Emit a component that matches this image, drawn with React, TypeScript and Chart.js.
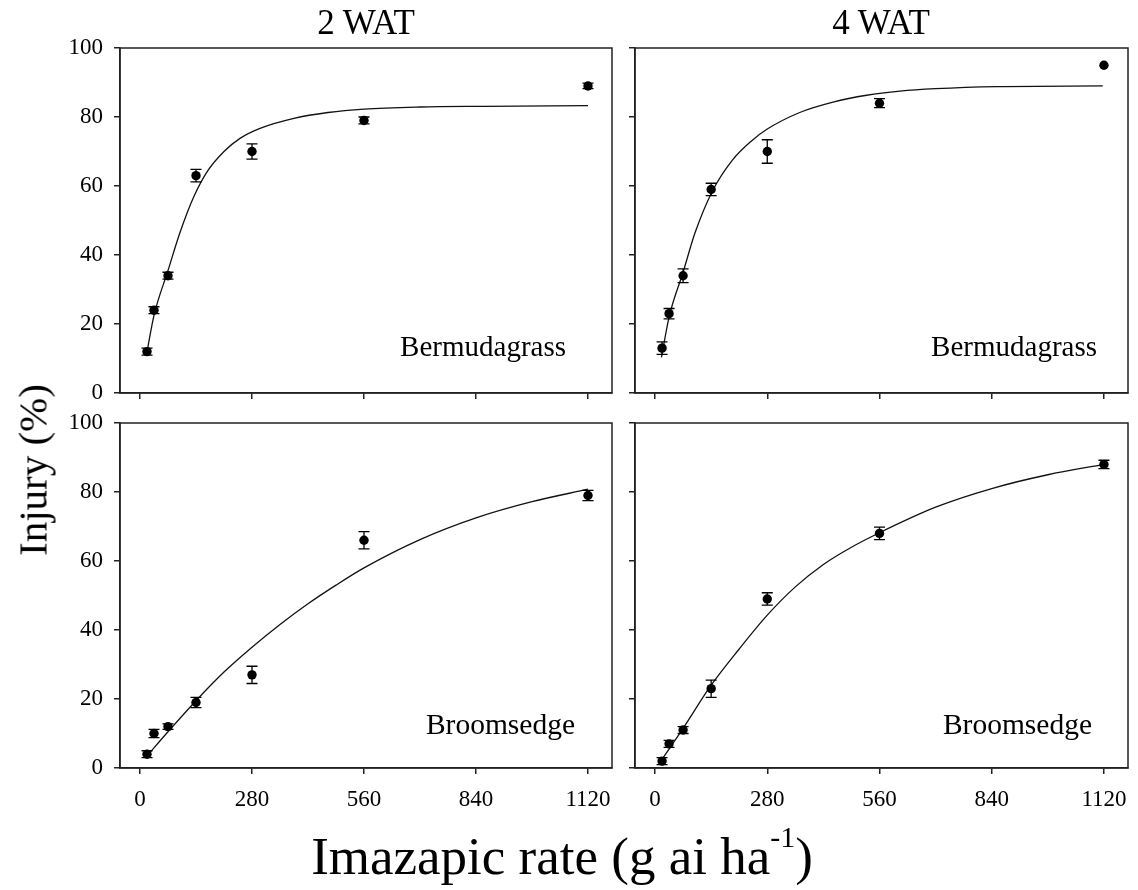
import React, { useEffect, useRef } from "react";
import { Chart, registerables } from "chart.js";
Chart.register(...registerables);

// ---------- data ----------
const RATES = [17.5, 35, 70, 140, 280, 560, 1120];
const X_TICKS = [0, 280, 560, 840, 1120];
const Y_TICKS = [0, 20, 40, 60, 80, 100];

const BERM_2WAT = [12, 24, 34, 63, 70, 79, 89];
const BERM_2WAT_SE = [1, 1, 1, 1.8, 2.2, 1, 0.8];
const BERM_4WAT = [13, 23, 34, 59, 70, 84, 95];
const BERM_4WAT_SE = [1.8, 1.5, 2, 1.8, 3.4, 1.3, 0];
const BROOM_2WAT = [4, 10, 12, 19, 27, 66, 79];
const BROOM_2WAT_SE = [1, 1.2, 0.8, 1.5, 2.5, 2.5, 1.5];
const BROOM_4WAT = [2, 7, 11, 23, 49, 68, 88];
const BROOM_4WAT_SE = [1, 1, 1, 2.5, 1.8, 1.8, 1.2];

// fitted curves
const BERM_2WAT_FIT_X = [17.5, 35, 70, 100, 135, 170, 210, 250, 300, 385, 470, 560, 700, 860, 1120];
const BERM_2WAT_FIT_Y = [12, 22.5, 35.5, 46.5, 57, 64.5, 70, 73.8, 76.7, 79.6, 81.3, 82.3, 82.9, 83.1, 83.3];
const BERM_4WAT_FIT_X = [16, 35, 70, 100, 143, 193, 240, 280, 361, 444, 528, 611, 700, 853, 1117];
const BERM_4WAT_FIT_Y = [10.3, 22, 35, 46.5, 58.5, 67.5, 73, 76.5, 81.3, 84.3, 86.3, 87.5, 88.2, 88.8, 89];
const BROOM_2WAT_FIT_X = [17.5, 70, 140, 210, 280, 350, 420, 490, 560, 700, 840, 980, 1120];
const BROOM_2WAT_FIT_Y = [3.5, 10.5, 19.5, 27.8, 35, 41.6, 47.6, 53, 58, 66.2, 72.5, 77.2, 80.8];
const BROOM_4WAT_FIT_X = [17.5, 35, 70, 140, 210, 280, 350, 420, 490, 560, 700, 840, 980, 1120];
const BROOM_4WAT_FIT_Y = [2.5, 5.5, 11.5, 24, 34.5, 44.3, 52.5, 59, 64, 68.2, 75.6, 81, 85, 88];

const FONT = "'Liberation Serif', 'Times New Roman', serif";
const INK = "#222";

type Panel = {
  key: string;
  left: number; top: number; w: number; h: number;
  pad: { left: number; top: number; right: number; bottom: number };
  yW: number; xH: number;
  showX: boolean; showY: boolean;
  vals: number[]; se: number[]; fx: number[]; fy: number[];
};

const PANELS: Panel[] = [
  { key: "tl", left: 0, top: 0, w: 620, h: 420, pad: { left: 0, top: 48, right: 8, bottom: 0 }, yW: 120, xH: 27, showX: false, showY: true, vals: BERM_2WAT, se: BERM_2WAT_SE, fx: BERM_2WAT_FIT_X, fy: BERM_2WAT_FIT_Y },
  { key: "tr", left: 615, top: 0, w: 523, h: 420, pad: { left: 0, top: 48, right: 10, bottom: 0 }, yW: 20, xH: 27, showX: false, showY: false, vals: BERM_4WAT, se: BERM_4WAT_SE, fx: BERM_4WAT_FIT_X, fy: BERM_4WAT_FIT_Y },
  { key: "bl", left: 0, top: 393, w: 632, h: 437, pad: { left: 0, top: 30, right: 20, bottom: 0 }, yW: 120, xH: 62, showX: true, showY: true, vals: BROOM_2WAT, se: BROOM_2WAT_SE, fx: BROOM_2WAT_FIT_X, fy: BROOM_2WAT_FIT_Y },
  { key: "br", left: 615, top: 393, w: 540, h: 437, pad: { left: 0, top: 30, right: 27, bottom: 0 }, yW: 20, xH: 62, showX: true, showY: false, vals: BROOM_4WAT, se: BROOM_4WAT_SE, fx: BROOM_4WAT_FIT_X, fy: BROOM_4WAT_FIT_Y },
];

function makeConfig(p: Panel): any {
  const framePlugin = {
    id: "frame" + p.key,
    afterDraw(chart: any) {
      const { ctx, chartArea: a } = chart;
      ctx.save();
      ctx.strokeStyle = INK;
      ctx.lineWidth = 1.5;
      ctx.strokeRect(a.left, a.top, a.right - a.left, a.bottom - a.top);
      ctx.restore();
    },
  };
  const errPlugin = {
    id: "err" + p.key,
    afterDatasetsDraw(chart: any) {
      const { ctx } = chart;
      const xs = chart.scales.x, ys = chart.scales.y;
      ctx.save();
      ctx.strokeStyle = "#000";
      ctx.lineWidth = 1.3;
      RATES.forEach((r, i) => {
        const e = p.se[i];
        if (!e) return;
        const px = xs.getPixelForValue(r);
        const y1 = ys.getPixelForValue(p.vals[i] - e);
        const y2 = ys.getPixelForValue(p.vals[i] + e);
        ctx.beginPath();
        ctx.moveTo(px, y1); ctx.lineTo(px, y2);
        ctx.moveTo(px - 5.5, y1); ctx.lineTo(px + 5.5, y1);
        ctx.moveTo(px - 5.5, y2); ctx.lineTo(px + 5.5, y2);
        ctx.stroke();
      });
      ctx.restore();
    },
  };
  return {
    type: "scatter",
    data: {
      datasets: [
        {
          type: "line",
          data: p.fx.map((x, i) => ({ x, y: p.fy[i] })),
          borderColor: "#111",
          borderWidth: 1.3,
          pointRadius: 0,
          cubicInterpolationMode: "monotone",
          fill: false,
          order: 2,
        },
        {
          type: "scatter",
          data: RATES.map((x, i) => ({ x, y: p.vals[i] })),
          pointRadius: 4.7,
          pointBackgroundColor: "#000",
          pointBorderColor: "#000",
          pointBorderWidth: 0,
          order: 1,
        },
      ],
    },
    options: {
      animation: false,
      responsive: false,
      events: [],
      layout: { padding: p.pad },
      plugins: { legend: { display: false }, tooltip: { enabled: false }, title: { display: false } },
      scales: {
        x: {
          type: "linear",
          min: -50,
          max: 1180,
          afterBuildTicks: (s: any) => { s.ticks = X_TICKS.map((v) => ({ value: v })); },
          afterFit: (s: any) => { s.height = p.xH; },
          grid: { drawOnChartArea: false, drawTicks: true, tickLength: 6, color: INK, lineWidth: 1.5 },
          border: { display: true, color: INK, width: 1.5 },
          ticks: { display: p.showX, color: "#000", font: { family: FONT, size: 23 }, padding: 12, maxRotation: 0, autoSkip: false, callback: (v: any) => String(v) },
        },
        y: {
          type: "linear",
          min: 0,
          max: 100,
          afterBuildTicks: (s: any) => { s.ticks = Y_TICKS.map((v) => ({ value: v })); },
          afterFit: (s: any) => { s.width = p.yW; },
          grid: { drawOnChartArea: false, drawTicks: true, tickLength: 6, color: INK, lineWidth: 1.5 },
          border: { display: true, color: INK, width: 1.5 },
          ticks: { display: p.showY, color: "#000", font: { family: FONT, size: 23 }, padding: 11, autoSkip: false, callback: (v: any) => String(v) },
        },
      },
    },
    plugins: [errPlugin, framePlugin],
  };
}

function PanelChart({ p }: { p: Panel }) {
  const ref = useRef<HTMLCanvasElement | null>(null);
  useEffect(() => {
    if (!ref.current) return;
    const chart = new Chart(ref.current, makeConfig(p));
    return () => chart.destroy();
  }, [p]);
  return (
    <canvas
      ref={ref}
      width={p.w}
      height={p.h}
      style={{ position: "absolute", left: p.left, top: p.top, width: p.w, height: p.h }}
    />
  );
}

const textBase: React.CSSProperties = {
  position: "absolute",
  fontFamily: FONT,
  color: "#000",
  whiteSpace: "nowrap",
  lineHeight: 1,
};

export default function App() {
  return (
    <div style={{ position: "absolute", left: 0, top: 0, width: 1138, height: 890, background: "#fff", overflow: "hidden" }}>
      {PANELS.map((p) => (
        <PanelChart key={p.key} p={p} />
      ))}
      <div style={{ ...textBase, left: 366, top: 22, fontSize: 35, transform: "translate(-50%, -50%)" }}>2 WAT</div>
      <div style={{ ...textBase, left: 881, top: 22, fontSize: 35, transform: "translate(-50%, -50%)" }}>4 WAT</div>
      <div style={{ ...textBase, left: 33, top: 470, fontSize: 41, transform: "translate(-50%, -50%) rotate(-90deg)" }}>Injury (%)</div>
      <div style={{ ...textBase, left: 562, top: 856, fontSize: 53, transform: "translate(-50%, -50%)" }}>
        Imazapic rate (g ai ha<sup style={{ fontSize: 30, verticalAlign: "top", position: "relative", top: -8 }}>-1</sup>)
      </div>
      <div style={{ ...textBase, right: 1138 - 566, top: 346, fontSize: 29, transform: "translateY(-50%)" }}>Bermudagrass</div>
      <div style={{ ...textBase, right: 1138 - 1097, top: 346, fontSize: 29, transform: "translateY(-50%)" }}>Bermudagrass</div>
      <div style={{ ...textBase, right: 1138 - 575, top: 725, fontSize: 29.5, transform: "translateY(-50%)" }}>Broomsedge</div>
      <div style={{ ...textBase, right: 1138 - 1092, top: 725, fontSize: 29.5, transform: "translateY(-50%)" }}>Broomsedge</div>
    </div>
  );
}
